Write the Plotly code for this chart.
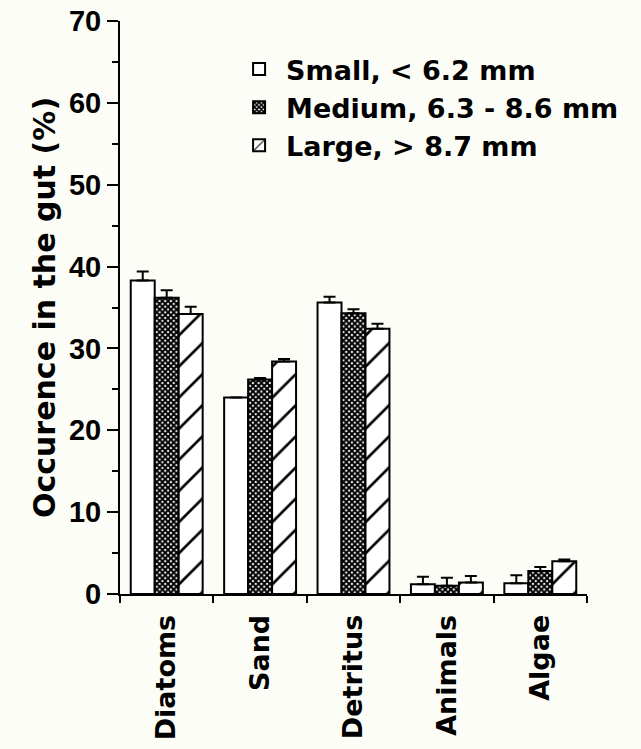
import plotly.graph_objects as go

categories = ["Diatoms", "Sand", "Detritus", "Animals", "Algae"]
series_names = ["Small, < 6.2 mm", "Medium, 6.3 - 8.6 mm", "Large, > 8.7 mm"]
small = [38.3, 24.0, 35.6, 1.2, 1.3]
small_err = [1.1, 0.0, 0.7, 0.9, 1.0]
medium = [36.2, 26.2, 34.3, 1.0, 2.8]
medium_err = [0.9, 0.2, 0.5, 1.0, 0.5]
large = [34.2, 28.4, 32.4, 1.4, 4.0]
large_err = [0.9, 0.3, 0.6, 0.8, 0.2]

BG = "#fcfdf6"
TXT = "DejaVu Sans"
NUM = "Liberation Sans"

patterns = [
    dict(shape=""),
    dict(shape="x", fgcolor="black", bgcolor="white", fgopacity=1, size=4, solidity=0.75),
    dict(shape="/", fgcolor="black", bgcolor="white", fgopacity=1, size=22, solidity=0.12),
]
vals = [small, medium, large]
errs = [small_err, medium_err, large_err]

fig = go.Figure()
for name, v, e, p in zip(series_names, vals, errs, patterns):
    fig.add_trace(go.Bar(
        x=categories, y=v, name=name,
        marker=dict(color="white", line=dict(color="black", width=2), pattern=p),
        error_y=dict(type="data", array=e, arrayminus=[0] * len(e), symmetric=False,
                     color="black", thickness=2, width=6),
    ))

fig.update_layout(
    width=641, height=749,
    margin=dict(l=120, r=54, t=21, b=155),
    paper_bgcolor=BG, plot_bgcolor=BG,
    barmode="group", bargap=0.23, bargroupgap=0,
    showlegend=True,
    legend=dict(x=0.24, y=0.958, xanchor="left", yanchor="top",
                bgcolor="rgba(0,0,0,0)", itemwidth=44,
                font=dict(family=TXT, size=27, color="black", weight="bold"),
                tracegroupgap=0),
)
fig.update_yaxes(
    range=[0, 70], dtick=10, tick0=0, automargin=False,
    showline=True, linecolor="black", linewidth=2,
    ticks="outside", ticklen=11, tickwidth=2, tickcolor="black",
    minor=dict(dtick=5, ticks="outside", ticklen=6, tickwidth=2, tickcolor="black"),
    showgrid=False, zeroline=False,
    tickfont=dict(family=NUM, size=29, color="black", weight="bold"),
    title=dict(text="Occurence in the gut (%)",
               font=dict(family=TXT, size=30, color="black", weight="bold"),
               standoff=4),
)
fig.update_xaxes(
    automargin=False,
    showline=True, linecolor="black", linewidth=2,
    ticks="outside", ticklen=7, tickwidth=2, tickcolor="black",
    tickson="boundaries", tickangle=-90, ticklabelstandoff=8,
    showgrid=False, zeroline=False,
    tickfont=dict(family=TXT, size=27, color="black", weight="bold"),
)

fig.write_html("out.html")
